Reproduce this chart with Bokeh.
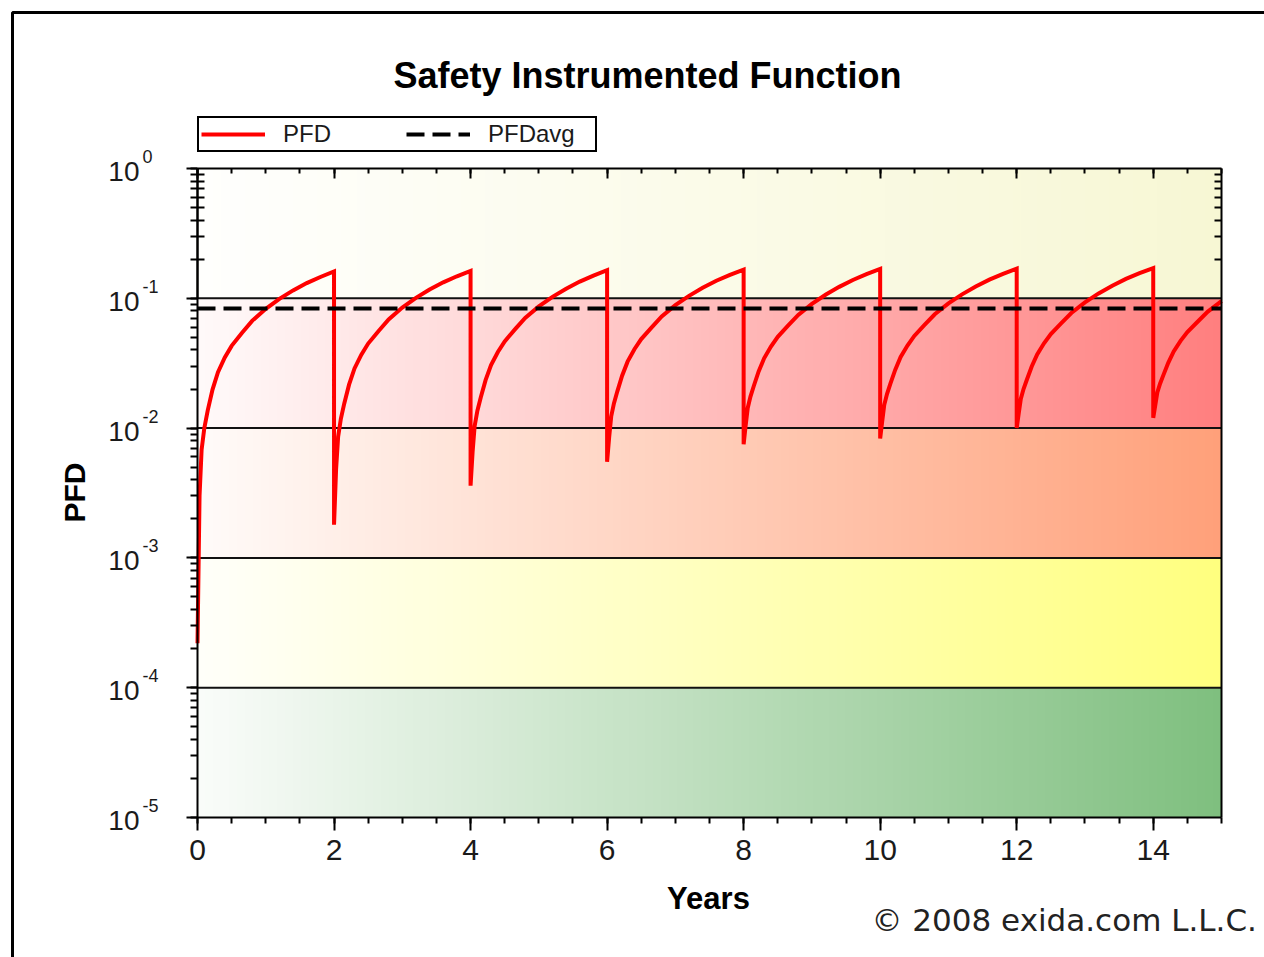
from bokeh.plotting import figure
from bokeh.models import (Range1d, LinearAxis, LogAxis, SingleIntervalTicker, FixedTicker, LogTicker,
                          Label, Legend, LegendItem, BoxAnnotation, ColumnDataSource)
from bokeh.embed import file_html
from bokeh.resources import INLINE

# ---------------- data ----------------
title_text = "Safety Instrumented Function"
x_label = "Years"
y_label = "PFD"
copyright_text = "\u00a9 2008 exida.com L.L.C."
legend_labels = ["PFD", "PFDavg"]

years = [
    0.0, 0.03, 0.06, 0.1, 0.15, 0.22, 0.3, 0.4, 0.5, 0.65, 0.8, 1.0, 1.2, 1.4, 1.6, 1.8, 2.0,
    2.0, 2.03, 2.06, 2.1, 2.15, 2.22, 2.3, 2.4, 2.5, 2.65, 2.8, 3.0, 3.2, 3.4, 3.6, 3.8, 4.0,
    4.0, 4.03, 4.06, 4.1, 4.15, 4.22, 4.3, 4.4, 4.5, 4.65, 4.8, 5.0, 5.2, 5.4, 5.6, 5.8, 6.0,
    6.0, 6.03, 6.06, 6.1, 6.15, 6.22, 6.3, 6.4, 6.5, 6.65, 6.8, 7.0, 7.2, 7.4, 7.6, 7.8, 8.0,
    8.0, 8.03, 8.06, 8.1, 8.15, 8.22, 8.3, 8.4, 8.5, 8.65, 8.8, 9.0, 9.2, 9.4, 9.6, 9.8, 10.0,
    10.0, 10.03, 10.06, 10.1, 10.15, 10.22, 10.3, 10.4, 10.5, 10.65, 10.8, 11.0, 11.2, 11.4, 11.6, 11.8, 12.0,
    12.0, 12.03, 12.06, 12.1, 12.15, 12.22, 12.3, 12.4, 12.5, 12.65, 12.8, 13.0, 13.2, 13.4, 13.6, 13.8, 14.0,
    14.0, 14.03, 14.06, 14.1, 14.15, 14.22, 14.3, 14.4, 14.5, 14.65, 14.8, 15.0,
]
pfd = [
    0.00022, 0.0030, 0.0068, 0.0100, 0.0137, 0.0198, 0.0270, 0.0350, 0.0430, 0.0540, 0.0670, 0.0830, 0.0990, 0.1150, 0.1310, 0.1460, 0.1610,
    0.0018, 0.0048, 0.0086, 0.0118, 0.0155, 0.0216, 0.0288, 0.0368, 0.0448, 0.0558, 0.0688, 0.0848, 0.1008, 0.1168, 0.1328, 0.1478, 0.1628,
    0.0036, 0.0066, 0.0104, 0.0136, 0.0173, 0.0234, 0.0306, 0.0386, 0.0466, 0.0576, 0.0706, 0.0866, 0.1026, 0.1186, 0.1346, 0.1496, 0.1646,
    0.0055, 0.0085, 0.0123, 0.0155, 0.0192, 0.0253, 0.0325, 0.0405, 0.0485, 0.0595, 0.0725, 0.0885, 0.1045, 0.1205, 0.1365, 0.1515, 0.1665,
    0.0075, 0.0105, 0.0143, 0.0175, 0.0212, 0.0273, 0.0345, 0.0425, 0.0505, 0.0615, 0.0745, 0.0905, 0.1065, 0.1225, 0.1385, 0.1535, 0.1685,
    0.0083, 0.0113, 0.0151, 0.0183, 0.0220, 0.0281, 0.0353, 0.0433, 0.0513, 0.0623, 0.0753, 0.0913, 0.1073, 0.1233, 0.1393, 0.1543, 0.1693,
    0.0100, 0.0130, 0.0168, 0.0200, 0.0237, 0.0298, 0.0370, 0.0450, 0.0530, 0.0640, 0.0770, 0.0930, 0.1090, 0.1250, 0.1410, 0.1560, 0.1710,
    0.0120, 0.0150, 0.0188, 0.0220, 0.0257, 0.0318, 0.0390, 0.0470, 0.0550, 0.0660, 0.0790, 0.0950,
]
pfd_avg = 0.0835

band_edges = [1e-5, 1e-4, 1e-3, 1e-2, 1e-1, 1.0]
band_end_colors = ["#7FBF7F", "#FFFF7F", "#FFA07A", "#FF7F7F", "#F7F7D4"]
decade_lines = [1e-4, 1e-3, 1e-2, 1e-1]
y_decades = [0, -1, -2, -3, -4, -5]
x_tick_step = 2
x_min, x_max = 0, 15

# ---------------- layout (pixels) ----------------
W, H = 1264, 957
FL, FR, FT, FB = 197, 1221, 168, 817      # chart area edges on the canvas
LABEL_FONT = "Liberation Sans"

# The plotting frame spans the whole canvas; data ranges are widened so that
# x in [0, 15] and y in [1e-5, 1] fall on the chart area.
px_per_year = (FR - FL) / (x_max - x_min)
px_per_dec = (FB - FT) / 5.0
xr = Range1d(x_min - FL / px_per_year, x_max + (W - FR) / px_per_year)
yr = Range1d(10 ** (-5 - (H - FB) / px_per_dec), 10 ** (FT / px_per_dec))

p = figure(width=W, height=H, x_range=xr, y_range=yr, y_axis_type="log",
           x_axis_location=None, y_axis_location=None,
           output_backend="svg", toolbar_location=None,
           min_border=0, min_border_left=0, min_border_right=0, min_border_top=0, min_border_bottom=0,
           background_fill_color="white", border_fill_color="white", outline_line_color=None)
p.xgrid.grid_line_color = None
p.ygrid.grid_line_color = None

# gradient bands (horizontal gradient from near white to band colour)
n = 128
L, R, B, T, C = [], [], [], [], []
for b in range(len(band_end_colors)):
    hx = band_end_colors[b].lstrip("#")
    rc = [int(hx[i:i + 2], 16) for i in (0, 2, 4)]
    for i in range(n):
        f = 0.04 + 0.96 * (i + 0.5) / n
        col = "#%02x%02x%02x" % tuple(int(round(255 + (c - 255) * f)) for c in rc)
        L.append(x_min + (x_max - x_min) * i / n)
        R.append(x_min + (x_max - x_min) * (i + 1) / n)
        B.append(band_edges[b])
        T.append(band_edges[b + 1])
        C.append(col)
bsrc = ColumnDataSource(dict(left=L, right=R, bottom=B, top=T, color=C))
p.quad(left="left", right="right", bottom="bottom", top="top", fill_color="color",
       line_color="color", line_width=1, source=bsrc)

# decade lines
p.segment(x0=[x_min] * len(decade_lines), x1=[x_max] * len(decade_lines), y0=decade_lines, y1=decade_lines,
          line_color="#111111", line_width=2)

# curves
r_pfd = p.line(years, pfd, line_color="#FF0000", line_width=4, line_join="miter")
r_avg = p.line([x_min, x_max], [pfd_avg, pfd_avg], line_color="black", line_width=4, line_dash="18 8")

# ---------------- axes (fixed at the chart-area edges) ----------------
common = dict(axis_line_width=2, major_tick_line_width=2, minor_tick_line_width=2,
              axis_line_color="black", major_tick_line_color="black", minor_tick_line_color="black")
top_decade_minors = [k / 10 for k in range(2, 10)]

bottom_axis = LinearAxis(fixed_location=band_edges[0], bounds=(x_min, x_max),
                         ticker=SingleIntervalTicker(interval=x_tick_step, num_minor_ticks=4),
                         major_tick_out=13, major_tick_in=0, minor_tick_out=6, minor_tick_in=0,
                         major_label_text_font=LABEL_FONT, major_label_text_font_size="30px",
                         major_label_text_color="#1a1a1a", major_label_standoff=9, **common)
p.add_layout(bottom_axis, "below")

top_axis = LinearAxis(fixed_location=band_edges[-1], bounds=(x_min, x_max),
                      ticker=SingleIntervalTicker(interval=x_tick_step, num_minor_ticks=4),
                      major_tick_in=10, major_tick_out=0, minor_tick_in=5, minor_tick_out=0,
                      major_label_text_font_size="0px", major_label_text_alpha=0, **common)
p.add_layout(top_axis, "above")

left_axis = LogAxis(fixed_location=x_min, bounds=(band_edges[0], band_edges[-1]),
                    ticker=LogTicker(num_minor_ticks=10),
                    major_tick_out=11, major_tick_in=0, minor_tick_out=7, minor_tick_in=0,
                    major_label_text_font_size="0px", major_label_text_alpha=0, **common)
p.add_layout(left_axis, "left")

# inward minor ticks on the left edge, visible only in the top (uncoloured) decade
left_inner = LogAxis(fixed_location=x_min, bounds=(band_edges[-2], band_edges[-1]),
                     ticker=FixedTicker(ticks=[band_edges[-2], band_edges[-1]], minor_ticks=top_decade_minors),
                     major_tick_out=0, major_tick_in=0, minor_tick_out=0, minor_tick_in=7,
                     major_label_text_font_size="0px", major_label_text_alpha=0, **common)
p.add_layout(left_inner, "left")

right_axis = LogAxis(fixed_location=x_max, bounds=(band_edges[0], band_edges[-1]),
                     ticker=FixedTicker(ticks=[band_edges[-2], band_edges[-1]], minor_ticks=top_decade_minors),
                     major_tick_in=0, major_tick_out=0, minor_tick_in=7, minor_tick_out=0,
                     major_label_text_font_size="0px", major_label_text_alpha=0, **common)
p.add_layout(right_axis, "right")

# y tick labels 10^n
for d in y_decades:
    p.add_layout(Label(x=139, y=10.0 ** d, x_units="screen", y_units="data", text="10",
                       text_align="right", text_baseline="alphabetic", y_offset=-3,
                       text_font=LABEL_FONT, text_font_size="28px", text_color="#1a1a1a"))
    p.add_layout(Label(x=142, y=10.0 ** d, x_units="screen", y_units="data", text=str(d),
                       text_align="left", text_baseline="alphabetic", y_offset=12,
                       text_font=LABEL_FONT, text_font_size="18px", text_color="#1a1a1a"))

# ---------------- texts (screen units: x from left, y from bottom) ----------------
p.add_layout(Label(x=647, y=H - 75, x_units="screen", y_units="screen", text=title_text,
                   text_align="center", text_baseline="alphabetic", text_font=LABEL_FONT,
                   text_font_style="bold", text_font_size="36px", text_color="black"))
p.add_layout(Label(x=708, y=H - 898, x_units="screen", y_units="screen", text=x_label,
                   text_align="center", text_baseline="alphabetic", text_font=LABEL_FONT,
                   text_font_style="bold", text_font_size="31px", text_color="black"))
p.add_layout(Label(x=74, y=H - 492, x_units="screen", y_units="screen", text=y_label, angle=1.5708,
                   text_align="center", text_baseline="middle", text_font=LABEL_FONT,
                   text_font_style="bold", text_font_size="30px", text_color="black"))
p.add_layout(Label(x=871, y=H - 919, x_units="screen", y_units="screen", text=copyright_text,
                   text_align="left", text_baseline="alphabetic", text_font="DejaVu Sans",
                   text_font_size="31px", text_color="#222222"))

# outer frame (left and top edges visible)
p.add_layout(BoxAnnotation(left=12, right=W + 50, top=H - 12, bottom=-50,
                           left_units="screen", right_units="screen", top_units="screen", bottom_units="screen",
                           fill_color=None, fill_alpha=0, line_color="black", line_alpha=1, line_width=3))

# legend
legend = Legend(items=[LegendItem(label=legend_labels[0], renderers=[r_pfd]),
                       LegendItem(label=legend_labels[1], renderers=[r_avg])],
                orientation="horizontal", location=(FL, H - 152), margin=0, padding=2, spacing=18,
                glyph_width=64, glyph_height=20, label_standoff=18, label_width=105,
                label_text_font=LABEL_FONT, label_text_font_size="24px", label_text_color="#1a1a1a",
                border_line_color="black", border_line_width=2, border_line_alpha=1,
                background_fill_color="white", background_fill_alpha=1)
p.add_layout(legend)

open("out.html", "w").write(file_html(p, INLINE))
